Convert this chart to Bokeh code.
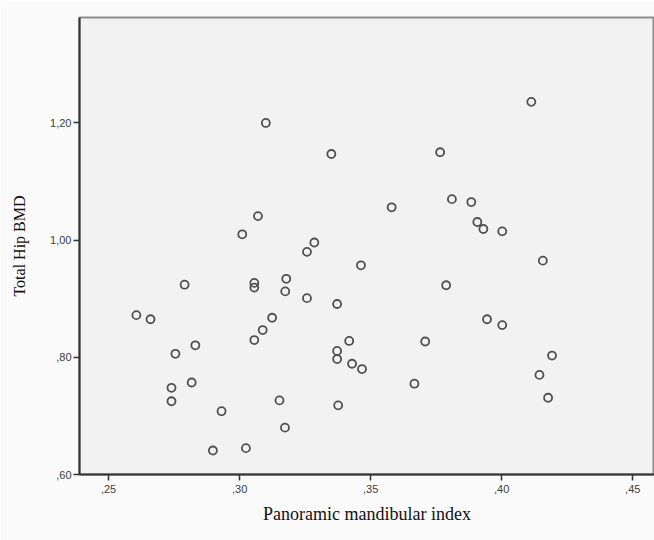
from bokeh.plotting import figure
from bokeh.models import Range1d, FixedTicker, CustomJSTickFormatter, ColumnDataSource
from bokeh.embed import file_html
from bokeh.resources import INLINE

# Panoramic mandibular index (x) and Total Hip BMD (y)
pmi = [0.310, 0.307, 0.301, 0.279, 0.3056, 0.3056, 0.2606, 0.266, 0.3124, 0.3088,
       0.3056, 0.2831, 0.2755, 0.2817, 0.274, 0.274, 0.2931, 0.2898, 0.3024, 0.3152,
       0.335, 0.3765, 0.381, 0.3884, 0.3907, 0.358, 0.3285, 0.3257, 0.3463, 0.3178,
       0.3174, 0.3257, 0.3372, 0.3788, 0.3418, 0.3708, 0.3372, 0.3372, 0.3429, 0.3467,
       0.3667, 0.3376, 0.3173,
       0.4113, 0.393, 0.4002, 0.4157, 0.3944, 0.4002, 0.4192, 0.4144, 0.4177]
bmd = [1.200, 1.041, 1.010, 0.924, 0.927, 0.919, 0.872, 0.865, 0.8675, 0.8465,
       0.8295, 0.8205, 0.806, 0.757, 0.748, 0.725, 0.708, 0.641, 0.645, 0.7265,
       1.147, 1.150, 1.070, 1.065, 1.031, 1.056, 0.996, 0.980, 0.957, 0.934,
       0.9125, 0.901, 0.891, 0.923, 0.828, 0.827, 0.811, 0.797, 0.789, 0.780,
       0.755, 0.718, 0.680,
       1.236, 1.019, 1.015, 0.965, 0.865, 0.855, 0.803, 0.770, 0.731]

x_ticks = [0.25, 0.30, 0.35, 0.40, 0.45]
y_ticks = [0.60, 0.80, 1.00, 1.20]

p = figure(width=654, height=540, output_backend="svg", toolbar_location=None,
           x_range=Range1d(0.2389, 0.4583), y_range=Range1d(0.60, 1.38),
           min_border_left=79, min_border_right=0, min_border_top=17, min_border_bottom=66)

p.background_fill_color = "#f2f2f2"
p.border_fill_color = "#fafafa"
p.outline_line_color = "#8c8c8c"
p.outline_line_width = 2
p.xgrid.visible = False
p.ygrid.visible = False

src = ColumnDataSource(dict(x=pmi, y=bmd))
p.scatter("x", "y", source=src, marker="circle", size=8, fill_color=None,
          line_color="#505050", line_width=1.8)

fmt = CustomJSTickFormatter(code="""
let s = tick.toFixed(2).replace('.', ',');
if (s.startsWith('0')) { s = s.slice(1); }
return s;
""")

for ax, ticks in ((p.xaxis[0], x_ticks), (p.yaxis[0], y_ticks)):
    ax.ticker = FixedTicker(ticks=ticks)
    ax.formatter = fmt
    ax.axis_line_color = "#333333"
    ax.axis_line_width = 2
    ax.major_tick_line_color = "#333333"
    ax.major_tick_line_width = 1.5
    ax.major_tick_out = 6
    ax.major_tick_in = 0
    ax.minor_tick_line_color = None
    ax.major_label_text_font = "Liberation Sans"
    ax.major_label_text_font_size = "11px"
    ax.major_label_text_color = "#404040"
    ax.axis_label_text_font = "Liberation Serif"
    ax.axis_label_text_font_style = "normal"
    ax.axis_label_text_color = "#111111"

p.xaxis.axis_label = "Panoramic mandibular index"
p.xaxis.axis_label_text_font_size = "18px"
p.xaxis.major_label_standoff = 4
p.xaxis.axis_label_standoff = 8

p.yaxis.axis_label = "Total Hip BMD"
p.yaxis.axis_label_text_font_size = "16px"
p.yaxis.major_label_standoff = 2
p.yaxis.axis_label_standoff = 19

open("out.html", "w").write(file_html(p, INLINE))
